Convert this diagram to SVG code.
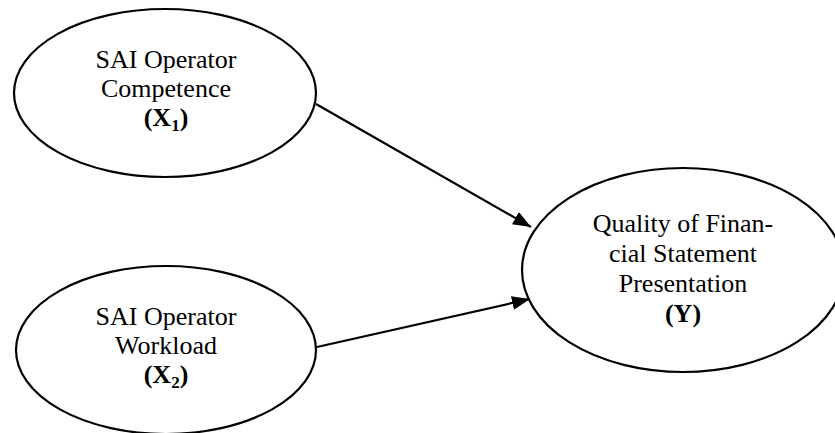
<svg xmlns="http://www.w3.org/2000/svg" width="835" height="433" viewBox="0 0 835 433">
<style>
.node ellipse{fill:#fff;stroke:#000;stroke-width:2.2}
text{font-family:"Liberation Serif","Times New Roman",serif;font-size:26px;fill:#000;text-anchor:middle}
.b{font-weight:bold}
.sub{font-size:17px}
.edge{stroke:#000;stroke-width:2.2;fill:none;marker-end:url(#ah)}
</style>
<defs>
<marker id="ah" markerUnits="userSpaceOnUse" markerWidth="20" markerHeight="16" refX="18" refY="7" orient="auto">
<path d="M0,0 L18,7 L0,14 Z" fill="#000"/>
</marker>
</defs>
<rect width="835" height="433" fill="#fff"/>
<g id="x1" class="node">
<ellipse cx="165" cy="93" rx="151" ry="84"/>
<text x="166" y="68">SAI Operator</text>
<text x="166" y="97">Competence</text>
<text x="166" y="126" class="b">(X<tspan class="sub" dy="5">1</tspan><tspan dy="-5">)</tspan></text>
</g>
<g id="x2" class="node">
<ellipse cx="166" cy="350" rx="150" ry="84"/>
<text x="166" y="325">SAI Operator</text>
<text x="166" y="354">Workload</text>
<text x="166" y="383" class="b">(X<tspan class="sub" dy="5">2</tspan><tspan dy="-5">)</tspan></text>
</g>
<g id="y" class="node">
<ellipse cx="683" cy="270" rx="161" ry="102"/>
<text x="683" y="232">Quality of Finan-</text>
<text x="683" y="262">cial Statement</text>
<text x="683" y="292">Presentation</text>
<text x="683" y="322" class="b">(Y)</text>
</g>
<g id="connectors">
<line class="edge" x1="316" y1="104" x2="531" y2="227"/>
<line class="edge" x1="317" y1="347" x2="530" y2="299"/>
</g>
</svg>
